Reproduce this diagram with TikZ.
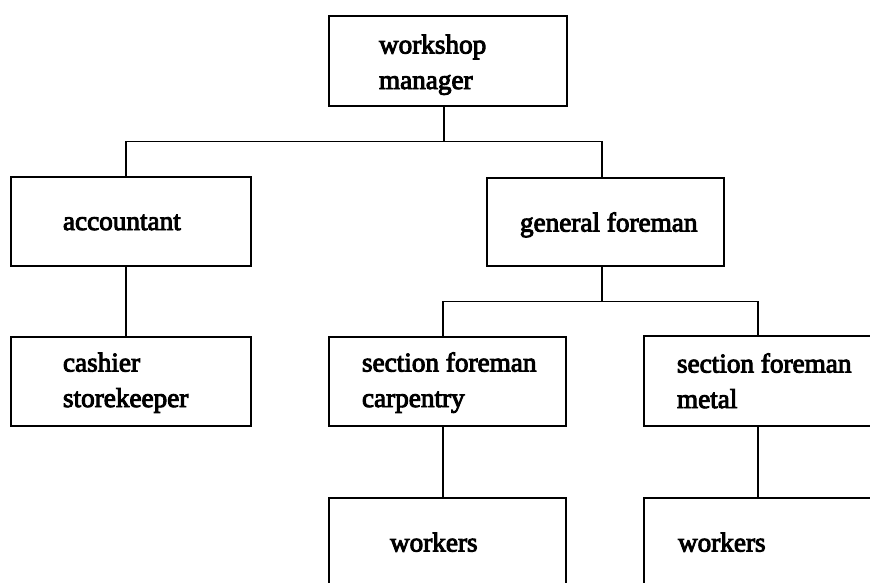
\documentclass[tikz,border=0pt]{standalone}
\usepackage{fontspec}
\setmainfont{Liberation Serif}[FakeBold=3.5]
\begin{document}
\begin{tikzpicture}[x=1pt,y=-1pt,
  box/.style={draw, line width=1.8pt, rectangle, inner sep=0pt, outer sep=0pt,
              minimum width=#1, minimum height=89pt},
  box/.default=237pt,
  lbl/.style={anchor=base west, inner sep=0pt, outer sep=0pt, align=left,
              font=\fontsize{27.2}{35.5}\selectfont},
  link/.style={line width=1.8pt}]
\useasboundingbox (0,0) rectangle (870,582);
\clip (0,0) rectangle (870,582);

% boxes
\node[box=238pt, minimum height=90pt] (top) at (448,61) {};
\node[box=240pt] (acc) at (131,221.5) {};
\node[box, minimum height=88pt] (gen) at (605.5,222) {};
\node[box=240pt] (cash) at (131,381.5) {};
\node[box] (carp) at (447.5,381.5) {};
\node[box, minimum height=90pt] (metal) at (762.5,381) {};
\node[box, minimum height=90pt] (wk1) at (447.5,543) {};
\node[box, minimum height=90pt] (wk2) at (762.5,543) {};

% labels (base anchor sits on the last line)
\node[lbl] (ttop) at (379,89) {workshop\\manager};
\node[lbl] (tacc) at (63,230) {accountant};
\node[lbl] (tgen) at (520,231.5) {general foreman};
\node[lbl] (tcash) at (63,407) {cashier\\storekeeper};
\node[lbl] (tcarp) at (362,407) {section foreman\\carpentry};
\node[lbl] (tmetal) at (677,408) {section foreman\\metal};
\node[lbl] (twk1) at (390,551.5) {workers};
\node[lbl] (twk2) at (678,551.5) {workers};

% connectors
\coordinate (j1) at (444,141.5);
\coordinate (j2) at (602,301.5);
\draw[link] ([xshift=-4pt]top.south) -- (j1);
\draw[link] ([xshift=-5pt]acc.north) |- (j1) -| ([xshift=-3.5pt]gen.north);
\draw[link] ([xshift=-5pt]acc.south) -- ([xshift=-5pt]cash.north);
\draw[link] ([xshift=-3.5pt]gen.south) -- (j2);
\draw[link] ([xshift=-4.5pt]carp.north) |- (j2) -| ([xshift=-4.5pt]metal.north);
\draw[link] ([xshift=-4.5pt]carp.south) -- ([xshift=-4.5pt]wk1.north);
\draw[link] ([xshift=-4.5pt]metal.south) -- ([xshift=-4.5pt]wk2.north);
\end{tikzpicture}
\end{document}
